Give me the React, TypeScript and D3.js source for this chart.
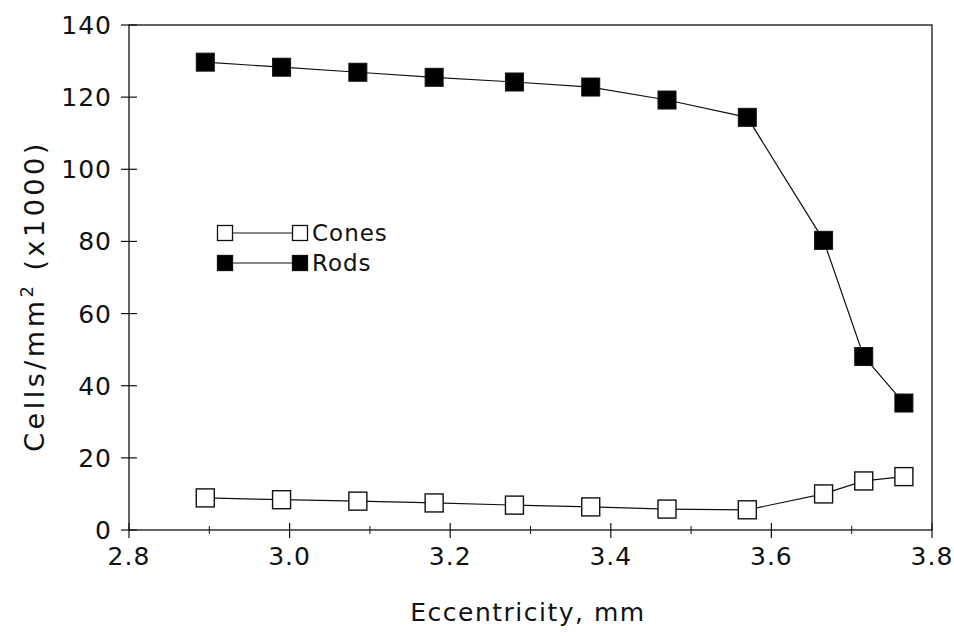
import { useRef, useEffect } from 'react'
import * as d3 from 'd3'

const eccentricity = [2.895, 2.99, 3.085, 3.18, 3.28, 3.375, 3.47, 3.57, 3.665, 3.715, 3.765]
const rods = [129.7, 128.3, 126.9, 125.5, 124.2, 122.8, 119.2, 114.4, 80.3, 48.1, 35.2]
const cones = [8.9, 8.4, 8.0, 7.5, 6.9, 6.4, 5.8, 5.6, 10.0, 13.6, 14.8]
const xTicks = [2.8, 3.0, 3.2, 3.4, 3.6, 3.8]
const xMinorTicks = [2.9, 3.1, 3.3, 3.5, 3.7]
const yTicks = [0, 20, 40, 60, 80, 100, 120, 140]

const W = 954
const H = 636
const FONT = '"DejaVu Sans", sans-serif'

export default function App() {
  const svgRef = useRef<SVGSVGElement>(null)

  useEffect(() => {
    if (!svgRef.current) return
    const svg = d3.select(svgRef.current)
    svg.selectAll('*').remove()

    const x = d3.scaleLinear().domain([2.8, 3.8]).range([129, 932])
    const y = d3.scaleLinear().domain([0, 140]).range([530, 25])

    // frame
    svg.append('rect')
      .attr('x', x(2.8)).attr('y', y(140))
      .attr('width', x(3.8) - x(2.8)).attr('height', y(0) - y(140))
      .attr('fill', 'none').attr('stroke', '#111').attr('stroke-width', 1.3)

    // y ticks
    yTicks.forEach((t) => {
      svg.append('line')
        .attr('x1', x(2.8) - 8).attr('x2', x(2.8) + 8)
        .attr('y1', y(t)).attr('y2', y(t))
        .attr('stroke', '#111').attr('stroke-width', 1.2)
      svg.append('text')
        .attr('x', 112).attr('y', y(t)).attr('dy', '0.36em')
        .attr('text-anchor', 'end').attr('font-family', FONT).attr('font-size', 25)
        .attr('letter-spacing', 1)
        .attr('fill', '#111')
        .text(d3.format('d')(t))
    })

    // x ticks
    xTicks.forEach((t) => {
      svg.append('line')
        .attr('x1', x(t)).attr('x2', x(t))
        .attr('y1', y(0) - 7).attr('y2', y(0) + 8)
        .attr('stroke', '#111').attr('stroke-width', 1.2)
      svg.append('text')
        .attr('x', x(t)).attr('y', y(0) + 35)
        .attr('text-anchor', 'middle').attr('font-family', FONT).attr('font-size', 25)
        .attr('letter-spacing', 1)
        .attr('fill', '#111')
        .text(d3.format('.1f')(t))
    })
    xMinorTicks.forEach((t) => {
      svg.append('line')
        .attr('x1', x(t)).attr('x2', x(t))
        .attr('y1', y(0) - 4).attr('y2', y(0) + 4)
        .attr('stroke', '#111').attr('stroke-width', 1)
    })

    // axis titles
    svg.append('text')
      .attr('x', 528).attr('y', 621)
      .attr('text-anchor', 'middle').attr('font-family', FONT).attr('font-size', 25)
      .attr('letter-spacing', 1.5)
      .attr('fill', '#111')
      .text('Eccentricity, mm')

    const yt = svg.append('text')
      .attr('transform', 'translate(44,296) rotate(-90)')
      .attr('text-anchor', 'middle').attr('font-family', FONT).attr('font-size', 27)
      .attr('letter-spacing', 3.5)
      .attr('fill', '#111')
    yt.append('tspan').text('Cells/mm')
    yt.append('tspan').attr('font-size', 18).attr('dy', -11).text('2')
    yt.append('tspan').attr('dy', 11).text(' (x1000)')

    const line = d3.line<number>()
      .x((_, i) => x(eccentricity[i]))
      .y((d) => y(d))

    const S = 18
    const drawSeries = (vals: number[], filled: boolean) => {
      svg.append('path')
        .attr('d', line(vals))
        .attr('fill', 'none').attr('stroke', '#111').attr('stroke-width', 1.2)
      svg.selectAll(null)
        .data(vals)
        .join('rect')
        .attr('x', (_, i) => x(eccentricity[i]) - S / 2)
        .attr('y', (d) => y(d) - S / 2)
        .attr('width', S).attr('height', S)
        .attr('fill', filled ? '#000' : '#fff')
        .attr('stroke', '#111').attr('stroke-width', filled ? 1 : 1.4)
    }
    drawSeries(cones, false)
    drawSeries(rods, true)

    // legend
    const legend = [
      { label: 'Cones', filled: false, cy: 233 },
      { label: 'Rods', filled: true, cy: 263 },
    ]
    const LS = 15
    legend.forEach((l) => {
      svg.append('line')
        .attr('x1', 233).attr('x2', 292)
        .attr('y1', l.cy).attr('y2', l.cy)
        .attr('stroke', '#111').attr('stroke-width', 1.2)
      ;[225, 300].forEach((cx) => {
        svg.append('rect')
          .attr('x', cx - LS / 2).attr('y', l.cy - LS / 2)
          .attr('width', LS).attr('height', LS)
          .attr('fill', l.filled ? '#000' : '#fff')
          .attr('stroke', '#111').attr('stroke-width', 1.3)
      })
      svg.append('text')
        .attr('x', 312).attr('y', l.cy).attr('dy', '0.36em')
        .attr('font-family', FONT).attr('font-size', 23).attr('letter-spacing', 1)
        .attr('fill', '#111')
        .text(l.label)
    })
  }, [])

  return (
    <svg
      ref={svgRef}
      width={W}
      height={H}
      style={{ position: 'absolute', left: 0, top: 0, background: '#fff' }}
    />
  )
}
